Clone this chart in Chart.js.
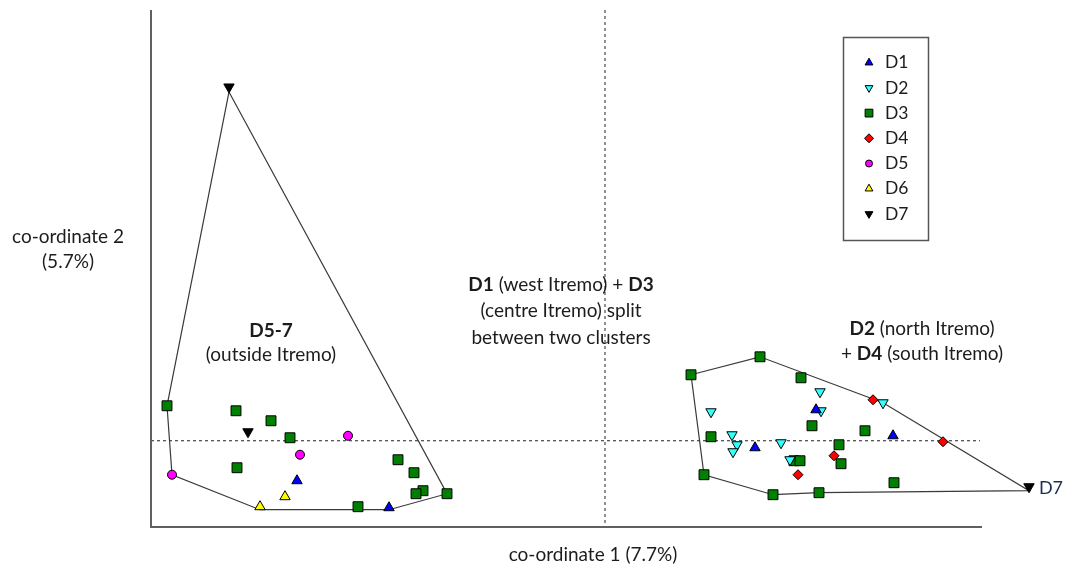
<!DOCTYPE html>
<html>
<head>
<meta charset="utf-8">
<script src="https://cdn.jsdelivr.net/npm/chart.js@4.4.0/dist/chart.umd.min.js"></script>
<style>
  body { margin: 0; background: #fff; }
  #wrap { width: 1078px; height: 567px; }
</style>
</head>
<body>
<div id="wrap"><canvas id="mdsChart"></canvas></div>
<script>
// values (arbitrary MDS units, origin at the dashed cross)
const d1X = [-30.8, -21.6, 21.1, 28.8, 15.0];
const d1Y = [-4.0, -6.7, 3.1, 0.5, -0.7];
const d2X = [21.5, 27.8, 10.6, 21.6, 12.7, 13.2, 12.8, 17.6, 18.5];
const d2Y = [4.9, 3.8, 2.9, 3.0, 0.6, -0.4, -1.1, -0.2, -1.9];
const d3X = [-43.8, -36.9, -33.4, -31.5, -36.8, -24.7, -20.7, -19.1, -18.2, -18.9, -15.8,
             8.6, 15.5, 19.6, 20.7, 26.0, 10.6, 23.4, 18.9, 19.5, 23.6, 9.9, 28.9, 16.8, 21.4];
const d3Y = [3.5, 3.0, 2.0, 0.3, -2.7, -6.6, -1.9, -3.2, -5.0, -5.3, -5.3,
             6.6, 8.4, 6.3, 1.5, 1.0, 0.4, -0.4, -2.0, -2.0, -2.3, -3.4, -4.2, -5.4, -5.2];
const d4X = [26.8, 33.8, 22.9, 19.3];
const d4Y = [4.1, -0.1, -1.5, -3.4];
const d5X = [-25.7, -30.5, -43.3];
const d5Y = [0.5, -1.4, -3.4];
const d6X = [-32.0, -34.5];
const d6Y = [-5.6, -6.6];
const d7X = [-37.6, -35.7, 42.4];
const d7Y = [35.4, 0.9, -4.6];

// convex hull outlines
const hullWestX = [-37.6, -43.8, -43.3, -34.5, -21.6, -15.8, -37.6];
const hullWestY = [34.9, 3.5, -3.4, -6.9, -6.9, -5.3, 34.9];
const hullEastX = [8.6, 15.5, 27.8, 42.4, 21.4, 16.8, 9.9, 8.6];
const hullEastY = [6.6, 8.4, 3.8, -5.0, -5.2, -5.4, -3.4, 6.6];

const FONT = 'Lato, "Open Sans", sans-serif';
const TXT = '#1c1c1c';
const SIZE = 19;

const groups = [
    { label: 'D1', xs: d1X, ys: d1Y, color: '#0000ff', style: 'triangle', rot: 0, r: 6 },
    { label: 'D2', xs: d2X, ys: d2Y, color: '#33ffff', style: 'triangle', rot: 180, r: 6 },
    { label: 'D3', xs: d3X, ys: d3Y, color: '#008000', style: 'rect', rot: 0, r: 7 },
    { label: 'D4', xs: d4X, ys: d4Y, color: '#ff0000', style: 'rectRot', rot: 0, r: 5 },
    { label: 'D5', xs: d5X, ys: d5Y, color: '#ff00ff', style: 'circle', rot: 0, r: 4.5 },
    { label: 'D6', xs: d6X, ys: d6Y, color: '#ffff00', style: 'triangle', rot: 0, r: 6 },
    { label: 'D7', xs: d7X, ys: d7Y, color: '#000000', style: 'triangle', rot: 180, r: 6 }
];

function pts(xs, ys) {
    return xs.map((x, i) => ({ x: x, y: ys[i] }));
}

const datasets = groups.map(g => ({
    label: g.label,
    data: pts(g.xs, g.ys),
    pointStyle: g.style,
    rotation: g.rot,
    pointRadius: g.r,
    backgroundColor: g.color,
    borderColor: '#000',
    borderWidth: 1,
    showLine: false,
    order: 1
}));

[[hullWestX, hullWestY], [hullEastX, hullEastY]].forEach(h => {
    datasets.push({
        label: 'hull',
        data: pts(h[0], h[1]),
        showLine: true,
        borderColor: '#3a3a3a',
        borderWidth: 1.2,
        pointRadius: 0,
        fill: false,
        tension: 0,
        order: 5
    });
});

function richLine(ctx, segs, cx, y, size) {
    size = size || SIZE;
    let total = 0;
    segs.forEach(s => {
        ctx.font = (s[1] ? 'bold ' : '') + size + 'px ' + FONT;
        total += ctx.measureText(s[0]).width;
    });
    let x = cx - total / 2;
    segs.forEach(s => {
        ctx.font = (s[1] ? 'bold ' : '') + size + 'px ' + FONT;
        ctx.fillText(s[0], x, y);
        x += ctx.measureText(s[0]).width;
    });
}

// axes lines and the dashed cross, under the points
const axesPlugin = {
    id: 'axesPlugin',
    beforeDatasetsDraw(chart) {
        const ctx = chart.ctx;
        const a = chart.chartArea;
        const xs = chart.scales.x, ys = chart.scales.y;
        const x0 = xs.getPixelForValue(0), y0 = ys.getPixelForValue(0);
        ctx.save();
        ctx.strokeStyle = '#222';
        ctx.lineWidth = 1;
        ctx.setLineDash([3, 3]);
        ctx.beginPath();
        ctx.moveTo(x0, a.top);
        ctx.lineTo(x0, a.bottom);
        ctx.moveTo(a.left, y0);
        ctx.lineTo(980, y0);
        ctx.stroke();
        ctx.setLineDash([]);
        ctx.strokeStyle = '#606060';
        ctx.lineWidth = 2;
        ctx.beginPath();
        ctx.moveTo(a.left, a.top);
        ctx.lineTo(a.left, a.bottom);
        ctx.lineTo(982, a.bottom);
        ctx.stroke();
        ctx.restore();
    },
    afterDraw(chart) {
        const ctx = chart.ctx;
        ctx.save();
        ctx.fillStyle = TXT;
        ctx.textBaseline = 'middle';
        ctx.textAlign = 'left';

        richLine(ctx, [['co-ordinate 2', false]], 68, 237);
        richLine(ctx, [['(5.7%)', false]], 68, 262);
        richLine(ctx, [['co-ordinate 1 (7.7%)', false]], 593, 555);

        richLine(ctx, [['D5-7', true]], 271, 331);
        richLine(ctx, [['(outside Itremo)', false]], 271, 355);

        richLine(ctx, [['D1', true], [' (west Itremo) + ', false], ['D3', true]], 561, 285);
        richLine(ctx, [['(centre Itremo) split', false]], 561, 311);
        richLine(ctx, [['between two clusters', false]], 561, 338);

        richLine(ctx, [['D2', true], [' (north Itremo)', false]], 922, 329);
        richLine(ctx, [['+ ', false], ['D4', true], [' (south Itremo)', false]], 922, 354);

        ctx.fillStyle = '#1f3050';
        richLine(ctx, [['D7', false]], 1051, 488, 18);

        // legend box
        ctx.strokeStyle = '#555';
        ctx.lineWidth = 1.5;
        ctx.strokeRect(843.5, 37.5, 85, 203);
        groups.forEach((g, i) => {
            const y = 62.7 + i * 25.2;
            const r = g.style === 'rect' ? 5.5 : (g.style === 'circle' ? 3.5 : 4.5);
            ctx.fillStyle = g.color;
            ctx.strokeStyle = '#000';
            ctx.lineWidth = 1;
            Chart.helpers.drawPoint(ctx, { pointStyle: g.style, rotation: g.rot, radius: r, borderWidth: 1 }, 869, y);
            ctx.fillStyle = TXT;
            ctx.font = '17.5px ' + FONT;
            ctx.fillText(g.label, 885, y);
        });
        ctx.restore();
    }
};

new Chart(document.getElementById('mdsChart'), {
    type: 'scatter',
    data: { datasets: datasets },
    options: {
        responsive: true,
        maintainAspectRatio: false,
        animation: false,
        layout: { padding: { left: 151, top: 10, right: 38, bottom: 40 } },
        plugins: { legend: { display: false }, tooltip: { enabled: false } },
        scales: {
            x: { type: 'linear', display: false, min: -45.4, max: 43.5 },
            y: { type: 'linear', display: false, min: -8.63, max: 43.1 }
        }
    },
    plugins: [axesPlugin]
});
</script>
</body>
</html>
